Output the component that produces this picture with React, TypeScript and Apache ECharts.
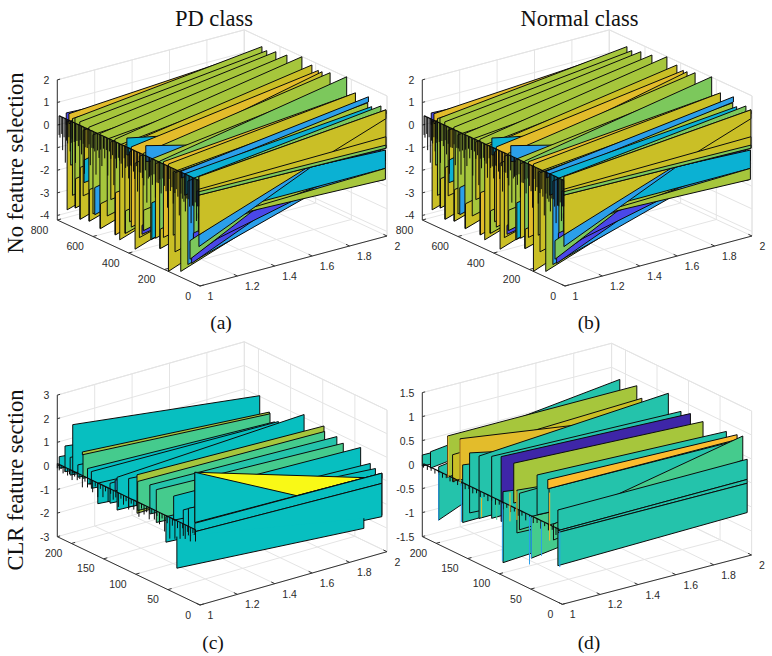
import React, { useEffect, useRef } from "react";
import * as echarts from "echarts";

// Surface facets, back to front: [y, z(x=1) top, z(x=1) bottom, z(x=2) top, z(x=2) bottom, colour level, top edge hidden]
const noSelectionRows = [
  [750, .72, .2, .35, -.2, 1], [745, .35, -3.55, .4, -1, 9], [735, .74, .3, 1.3, .5, 10], [725, .45, -1.5, .7, -1, 7], [715, .6, -2.8, .8, -1, 8],
  [701, .68, -3.3, 1.62, -1, 8], [698, -2, -3.3, -.6, -1, 9], [674, .6, -3.7, 1.54, -1, 8], [671, -1.4, -3.7, -.6, -1, 9], [655, .3, -2.6, .9, -1, 9], [650, -1, -2, .9, -1, 3],
  [623, .55, -3.6, 1.68, -1, 8], [620, -2.2, -3.6, -.7, -1, 9], [600, .3, -3.2, .9, -1, 8], [590, -2, -3.2, -.2, -1, 2], [561, .5, -3.7, 1.76, -1, 8], [558, -2.6, -3.7, -.7, -1, 9],
  [520, .4, -3, 1.2, -1, 8], [500, .35, -2.2, 1.3, -1, 9], [477, .55, -3.67, 1.99, -1, 8], [474, -1.8, -3.67, -.7, -1, 10], [450, .4, -3.8, 1.4, -1, 9],
  [421, .5, -3.4, 1.83, -1, 9], [418, -2.4, -3.4, -.8, -1, 8], [410, .85, .1, -.9, -1.5, 3], [395, .3, -2.8, 1.2, -1, 9], [385, .55, -3, 1.72, -1, 10],
  [364, -.1, -3.9, 1.74, -1, 9], [340, .3, -3.3, 1.4, -1, 9], [325, -2.7, -3.1, -1.2, -1.6, 1], [319, .5, -2.9, 1.86, -1, 8], [316, -2, -2.9, -.8, -1, 8],
  [304, .9, .2, -1.2, -1.6, 2], [276, .4, -3.17, 1.5, -1, 8], [270, -1.5, -3.1, -.5, -1, 3], [250, .3, -3, 1.3, -1, 9],
  [226, .5, -3.36, 2.02, -1, 7], [223, -2.5, -3.36, -.8, -1, 9], [205, .55, -2.8, 1.3, -1, 10], [177, .55, -4.2, 1.49, -1, 9], [150, .3, -2.5, 1.1, -1, 8],
  [140, .3, -3.2, 1, -1, 9], [108, .5, -3.95, 1.3, -1, 8], [104, .5, .2, 1.58, 1.35, 2], [86, .45, -.5, 1.21, .85, 3],
  [68, .2, -3.5, 1, -1, 2], [34, .45, -2.5, 1.43, -1, 7],
  [47, -3.07, -3.37, .47, .17, 1], [37, -2, -2.77, -.09, -.84, 1], [56, -2.4, -3.22, .95, .94, 7], [19, -.07, -.73, -.9, -1.79, 2],
  [9, -1.02, -1.83, -.43, -.9, 8], [9, -.07, -1.24, -.43, -1.24, 3], [9, -1.46, -1.46, -1.24, -1.73, 8], [6, -1.96, -2.48, 1.3, 1.18, 2],
  [6, .62, -.2, 1.36, -.34, 9], [6, .62, -1.96, 1.36, .97, 9], [6, .06, -.2, .17, -.34, 9], [6, -.05, -.2, -.2, -.34, 7],
];

// Narrow facets along x = 1, seen edge on: [y, depth reached in z]
const noSelectionRidge = [
  [790, -.4], [785, -.5], [775, -.3], [770, -1], [762, -.4], [755, -1.5], [748, -.5], [742, -.6], [735, -.3], [728, -.9], [722, -.5], [716, -.3],
  [705, -.4], [698, -1.3], [690, -.3], [682, -.5], [672, -.2], [664, -.8], [655, -.3], [648, -1.6], [640, -.4], [632, -.4], [622, -.2], [615, -1.1],
  [606, -.3], [598, -.3], [590, -.4], [583, -1.4], [575, -.3], [566, -.6], [557, -.2], [550, -.9], [541, -.1], [534, -.5], [525, -.1], [517, -1.2],
  [508, -.1], [500, -.4], [490, -.2], [483, -1.5], [475, -.3], [468, -.7], [458, -.2], [451, -.3], [442, -.4], [435, -1], [425, -.1], [417, -.5],
  [408, -.4], [400, -.9], [391, -.3], [384, -.3], [373, -.5], [366, -.8], [357, -.2], [350, -1.3], [340, -.4], [332, -.4], [323, -.6], [315, -.9],
  [306, -.2], [298, -1.6], [290, -.5], [283, -.4], [274, -.3], [267, -.7], [258, -.2], [250, -1.2], [241, -.5], [234, -.5], [225, -.3], [218, -.9],
  [208, -.2], [200, -.5], [190, -.7], [182, -1.4], [174, -.1], [166, -.6], [157, -.4], [150, -1.1], [141, -.6], [133, -.4], [124, -.7], [116, -1.5],
  [107, -.5], [99, -.7], [90, -.8], [82, -1.2], [74, -.6], [66, -.6], [58, -.9], [50, -1.6], [42, -.8], [35, -.8], [27, -.6], [20, -1.4], [13, -.7], [7, -.7],
];

const clrPdRows = [
  [219, .43, -.06, -.42, -1.12, 4], [210, 1, -.09, -.16, -1, 4], [202, .62, -.13, -.06, -.91, 4], [198, 2.06, .01, 1.03, -.84, 4],
  [190, .46, -.06, -.18, -1.02, 4], [182, 1.05, 0, .5, -1.06, 6], [183, 1.1, .98, .53, .45, 8], [175, .5, -.16, .22, -.98, 4],
  [169, .45, -.26, .31, -1.04, 4], [159, .09, -.78, -.33, -1.46, 4], [140, .33, -.51, .33, -1.22, 4], [132, .57, .12, -.27, -.63, 2],
  [129, .73, -.66, 1.13, -.94, 4], [111, .91, -.29, .28, -1.14, 4], [98, 1.24, -.39, 1.05, -.25, 8], [97, .97, -.26, .83, -.66, 6],
  [78, 1.07, -.16, .86, -.7, 5], [68, 1, -.39, .71, -.84, 6], [53, .05, -1.03, -.37, -1.5, 4], [41, 1.08, .06, .88, -.64, 4],
  [26, .69, -.58, .4, -.73, 4], [18, .86, -.33, .29, -.63, 4],
  [8, 2.52, .39, .01, .22, 12], [8, 2.52, .39, -1.56, .22, 4], [8, .36, 0, .22, -.21, 4], [8, 0, -1.05, -.21, -1.62, 4],
  [36, -.57, -1.91, -2.05, -2.48, 4, 1],
];

const clrPdRidge = [
  [222, -.1], [219, -.15], [216, -.05], [213, -.2], [210, -.1], [206, -.2], [203, -.1], [199, -.3], [195, -.1], [191, -.2], [187, -.1], [183, -.4],
  [179, -.1], [175, -.3], [171, -.15], [167, -.4], [163, -.1], [159, -.5], [155, -.1], [151, -.4], [147, -.1], [143, -.5], [139, -.1], [135, -.3],
  [131, -.15], [127, -.5], [123, -.1], [119, -.3], [115, -.1], [111, -.4], [107, -.1], [103, -.3], [99, -.1], [95, -.5], [91, -.1], [87, -.3],
  [83, -.15], [79, -.4], [75, -.1], [71, -.3], [67, -.1], [63, -.4], [59, -.1], [55, -.6], [51, -.2], [47, -.8], [43, -.2], [39, -.7], [35, -.2], [31, -.6],
  [27, -.1], [23, -.5], [19, -.15], [15, -.5], [11, -.1], [7, -.4],
];

const clrNormalRows = [
  [222, .2, -.03, .18, -.17, 5], [209, .35, .01, .83, .51, 5], [196, .12, -.99, .69, .65, 5], [182, .85, -.01, .87, .43, 8],
  [174, .51, -.05, .66, .21, 9], [162, .92, .06, .36, -.06, 10], [158, .4, -.8, -.11, -.72, 5], [147, .72, -.53, -.1, -.73, 5],
  [132, .75, -.55, 1.03, -.5, 5], [112, .87, -.42, .78, -.37, 5], [97, .96, -.39, .83, .6, 0], [94, .25, -1.23, -.26, -.95, 5],
  [77, .95, .12, .79, .2, 8], [72, .42, -.47, .05, -.58, 6], [68, .38, -.38, .47, -.23, 5], [49, .02, -.85, -.1, -.3, 6],
  [40, .94, .11, .82, -.05, 5], [21, .78, .02, .76, 0, 5], [23, .95, .76, .86, .76, 11], [14, .08, -.25, .89, .39, 6],
  [7, .42, -.01, .45, .03, 5], [7, -.01, -.05, .03, -.05, 5], [7, -.05, -.74, -.05, -.66, 5],
];

const clrNormalRidge = [
  [220, -.05], [214, -.06], [208, -.04], [202, -.06], [196, -.05], [190, -.07], [184, -.04], [178, -.07], [172, -.05], [166, -.07], [160, -.05], [154, -.08],
  [148, -.04], [142, -.09], [136, -.05], [130, -.09], [124, -.05], [118, -.1], [112, -.05], [106, -.1], [100, -.06], [94, -.12], [88, -.05], [82, -.1],
  [76, -.05], [70, -.1], [64, -.06], [58, -.12], [52, -.05], [46, -.1], [40, -.06], [34, -.14], [28, -.05], [22, -.1], [16, -.05], [10, -.12], [5, -.05],
];

// Thin coloured spikes seen edge on at x = 1: [y, z top, z bottom, colour level]
const clrNormalSpikes = [
  [196, 0, -1, 2], [181, .85, 0, 11], [162, .9, 0, 11], [160, 0, -.8, 2], [128, -.1, -.5, 10], [104, 0, -.4, 6], [95, 0, -1.2, 2],
  [83, .3, -.3, 11], [72, .4, -.2, 11], [52, 0, -1, 2], [49, 0, -.85, 2], [33, 0, -.7, 2], [20, .7, -.3, 11], [4, 0, -.75, 2],
];

const colourLevels = ["#3E26A8", "#4A47E8", "#2B9FEA", "#0BB1D3", "#07BFC0", "#24C3AB", "#45CB8D", "#7CC85C", "#A6C63C", "#CABF26", "#E3BC2B", "#FDBC2E", "#F9F916"];

const xTicks = [1, 1.2, 1.4, 1.6, 1.8, 2];
const xTickLabels = ["1", "1.2", "1.4", "1.6", "1.8", "2"];
const wideYTicks = [0, 200, 400, 600, 800];
const wideYLabels = ["0", "200", "400", "600", "800"];
const narrowYTicks = [0, 50, 100, 150, 200];
const narrowYLabels = ["0", "50", "100", "150", "200"];
const wideZTicks = [-4, -3, -2, -1, 0, 1, 2];
const wideZLabels = ["-4", "-3", "-2", "-1", "0", "1", "2"];
const clrPdZTicks = [-3, -2, -1, 0, 1, 2, 3];
const clrPdZLabels = ["-3", "-2", "-1", "0", "1", "2", "3"];
const clrNormalZTicks = [-1.5, -1, -.5, 0, .5, 1, 1.5];
const clrNormalZLabels = ["-1.5", "-1", "-0.5", "0", "0.5", "1", "1.5"];

const panels = [
  { o: [200, 286], ex: [187, -50], ey: [-142.7, -66], zUnit: 22.6, zMin: -4.2, zMax: 2, yMax: 800, ridgeTop: .45, yTicks: wideYTicks, yLabels: wideYLabels, zTicks: wideZTicks, zLabels: wideZLabels, rows: noSelectionRows, ridge: noSelectionRidge, spikes: [] as number[][] },
  { o: [565, 286], ex: [187, -50], ey: [-142.7, -66], zUnit: 22.6, zMin: -4.2, zMax: 2, yMax: 800, ridgeTop: .45, yTicks: wideYTicks, yLabels: wideYLabels, zTicks: wideZTicks, zLabels: wideZLabels, rows: noSelectionRows, ridge: noSelectionRidge, spikes: [] as number[][] },
  { o: [200, 605], ex: [187, -53.3], ey: [-142.7, -68.3], zUnit: 23.6, zMin: -3, zMax: 3, yMax: 222, ridgeTop: .1, yTicks: narrowYTicks, yLabels: narrowYLabels, zTicks: clrPdZTicks, zLabels: clrPdZLabels, rows: clrPdRows, ridge: clrPdRidge, spikes: [] as number[][] },
  { o: [562.3, 604.3], ex: [189.3, -49.3], ey: [-140, -67.7], zUnit: 48, zMin: -1.5, zMax: 1.5, yMax: 222, ridgeTop: .03, yTicks: narrowYTicks, yLabels: narrowYLabels, zTicks: clrNormalZTicks, zLabels: clrNormalZLabels, rows: clrNormalRows, ridge: clrNormalRidge, spikes: clrNormalSpikes },
];

type Item = { kind: string; pts?: number[][]; fill?: string; stroke?: string; lw?: number; text?: string; align?: string };

const GRID = "#E4E4E4";
const AXIS = "#333333";
const EDGE = "#0c0c0c";

function buildItems(p: any): Item[] {
  const project = (x: number, y: number, z: number) => [
    p.o[0] + p.ex[0] * (x - 1) + p.ey[0] * (y / p.yMax),
    p.o[1] + p.ex[1] * (x - 1) + p.ey[1] * (y / p.yMax) - p.zUnit * (z - p.zMin),
  ];
  const items: Item[] = [];
  const line = (pts: number[][], stroke: string, lw: number) => items.push({ kind: "line", pts, stroke, lw });
  const { yMax: Y, zMin: Z0, zMax: Z1 } = p;

  // back walls and floor
  xTicks.forEach((x) => line([project(x, 0, Z0), project(x, Y, Z0), project(x, Y, Z1)], GRID, 1));
  p.yTicks.forEach((y: number) => line([project(1, y, Z0), project(2, y, Z0), project(2, y, Z1)], GRID, 1));
  p.zTicks.forEach((z: number) => line([project(1, Y, z), project(2, Y, z), project(2, 0, z)], GRID, 1));
  line([project(1, Y, Z1), project(2, Y, Z1), project(2, 0, Z1), project(2, 0, Z0)], GRID, 1);
  line([project(2, Y, Z0), project(2, Y, Z1)], GRID, 1);

  // axes and ticks
  line([project(1, 0, Z0), project(2, 0, Z0)], AXIS, 1);
  line([project(1, 0, Z0), project(1, Y, Z0)], AXIS, 1);
  line([project(1, Y, Z0), project(1, Y, Z1)], AXIS, 1);
  xTicks.forEach((x, i) => {
    line([project(x, 0, Z0), project(x, Y * 0.025, Z0)], AXIS, 1);
    const [u, v] = project(x, 0, Z0);
    items.push({ kind: "text", pts: [[u + 7.5, v + 10]], text: xTickLabels[i], align: "left" });
  });
  p.yTicks.forEach((y: number, i: number) => {
    line([project(1, y, Z0), project(1.02, y, Z0)], AXIS, 1);
    const [u, v] = project(1, y, Z0);
    items.push({ kind: "text", pts: [[u - 9, v + 9.5]], text: p.yLabels[i], align: "right" });
  });
  p.zTicks.forEach((z: number, i: number) => {
    line([project(1, Y, z), project(1.015, Y, z)], AXIS, 1);
    const [u, v] = project(1, Y, z);
    items.push({ kind: "text", pts: [[u - 8, v]], text: p.zLabels[i], align: "right" });
  });

  // surface facets
  p.rows.forEach((r: number[]) => {
    const [y, z1t, z1b, z2t, z2b, lvl, noTop] = r;
    const corners = [project(1, y, z1t), project(2, y, z2t), project(2, y, z2b), project(1, y, z1b)];
    if (noTop) {
      items.push({ kind: "poly", pts: corners, fill: colourLevels[lvl], stroke: "none", lw: 0 });
      line([corners[1], corners[2], corners[3], corners[0]], EDGE, 1);
    } else {
      items.push({ kind: "poly", pts: corners, fill: colourLevels[lvl], stroke: EDGE, lw: 1 });
    }
  });
  line(p.ridge.map((r: number[]) => project(1, r[0], p.ridgeTop)), EDGE, 1.2);
  p.ridge.forEach((r: number[]) => line([project(1, r[0], p.ridgeTop), project(1, r[0], r[1])], EDGE, 1));
  p.spikes.forEach((s: number[]) => line([project(1, s[0], s[1]), project(1, s[0], s[2])], colourLevels[s[3]], 1));
  return items;
}

const serif = '"Liberation Serif", "Times New Roman", serif';

function captions() {
  const t = (text: string, x: number, y: number, size: number, rotation = 0) => ({
    type: "text", x, y, rotation, silent: true,
    style: { text, fill: "#111", font: `${size}px ${serif}`, textAlign: "center", textVerticalAlign: "middle", align: "center", verticalAlign: "middle" },
  });
  return [
    t("PD class", 214, 18, 22.5), t("Normal class", 579.5, 18, 22.5),
    t("No feature selection", 15, 163, 22.5, Math.PI / 2), t("CLR feature section", 15, 480, 22.5, Math.PI / 2),
    t("(a)", 221, 322, 19.5), t("(b)", 589, 322, 19.5), t("(c)", 213, 642, 19.5), t("(d)", 589, 642, 19.5),
  ];
}

export default function App() {
  const ref = useRef<HTMLDivElement>(null);
  useEffect(() => {
    const chart = echarts.init(ref.current!, undefined, { renderer: "svg" });
    const series = panels.map((p) => {
      const items = buildItems(p);
      return {
        type: "custom",
        coordinateSystem: "cartesian2d",
        clip: false,
        silent: true,
        data: items.map((_, i) => [i, 0]),
        renderItem: (params: any, api: any) => {
          const it = items[params.dataIndex];
          const pts = it.pts!.map((q) => api.coord(q));
          if (it.kind === "poly") {
            return { type: "polygon", shape: { points: pts }, style: { fill: it.fill, stroke: it.stroke, lineWidth: it.lw, lineJoin: "round" } };
          }
          if (it.kind === "line") {
            return { type: "polyline", shape: { points: pts }, style: { fill: "none", stroke: it.stroke, lineWidth: it.lw } };
          }
          return {
            type: "text", x: pts[0][0], y: pts[0][1],
            style: { text: it.text, fill: "#2b2b2b", font: '10.5px "Liberation Sans", Arial, sans-serif', textAlign: it.align, textVerticalAlign: "middle", align: it.align, verticalAlign: "middle" },
          };
        },
      };
    });
    chart.setOption({
      animation: false,
      backgroundColor: "#ffffff",
      grid: { left: 0, top: 0, width: 772, height: 656, containLabel: false },
      xAxis: { type: "value", min: 0, max: 772, show: false },
      yAxis: { type: "value", min: 0, max: 656, inverse: true, show: false },
      series,
      graphic: captions(),
    });
    return () => chart.dispose();
  }, []);
  return <div ref={ref} style={{ position: "fixed", left: 0, top: 0, width: 772, height: 656 }} />;
}
